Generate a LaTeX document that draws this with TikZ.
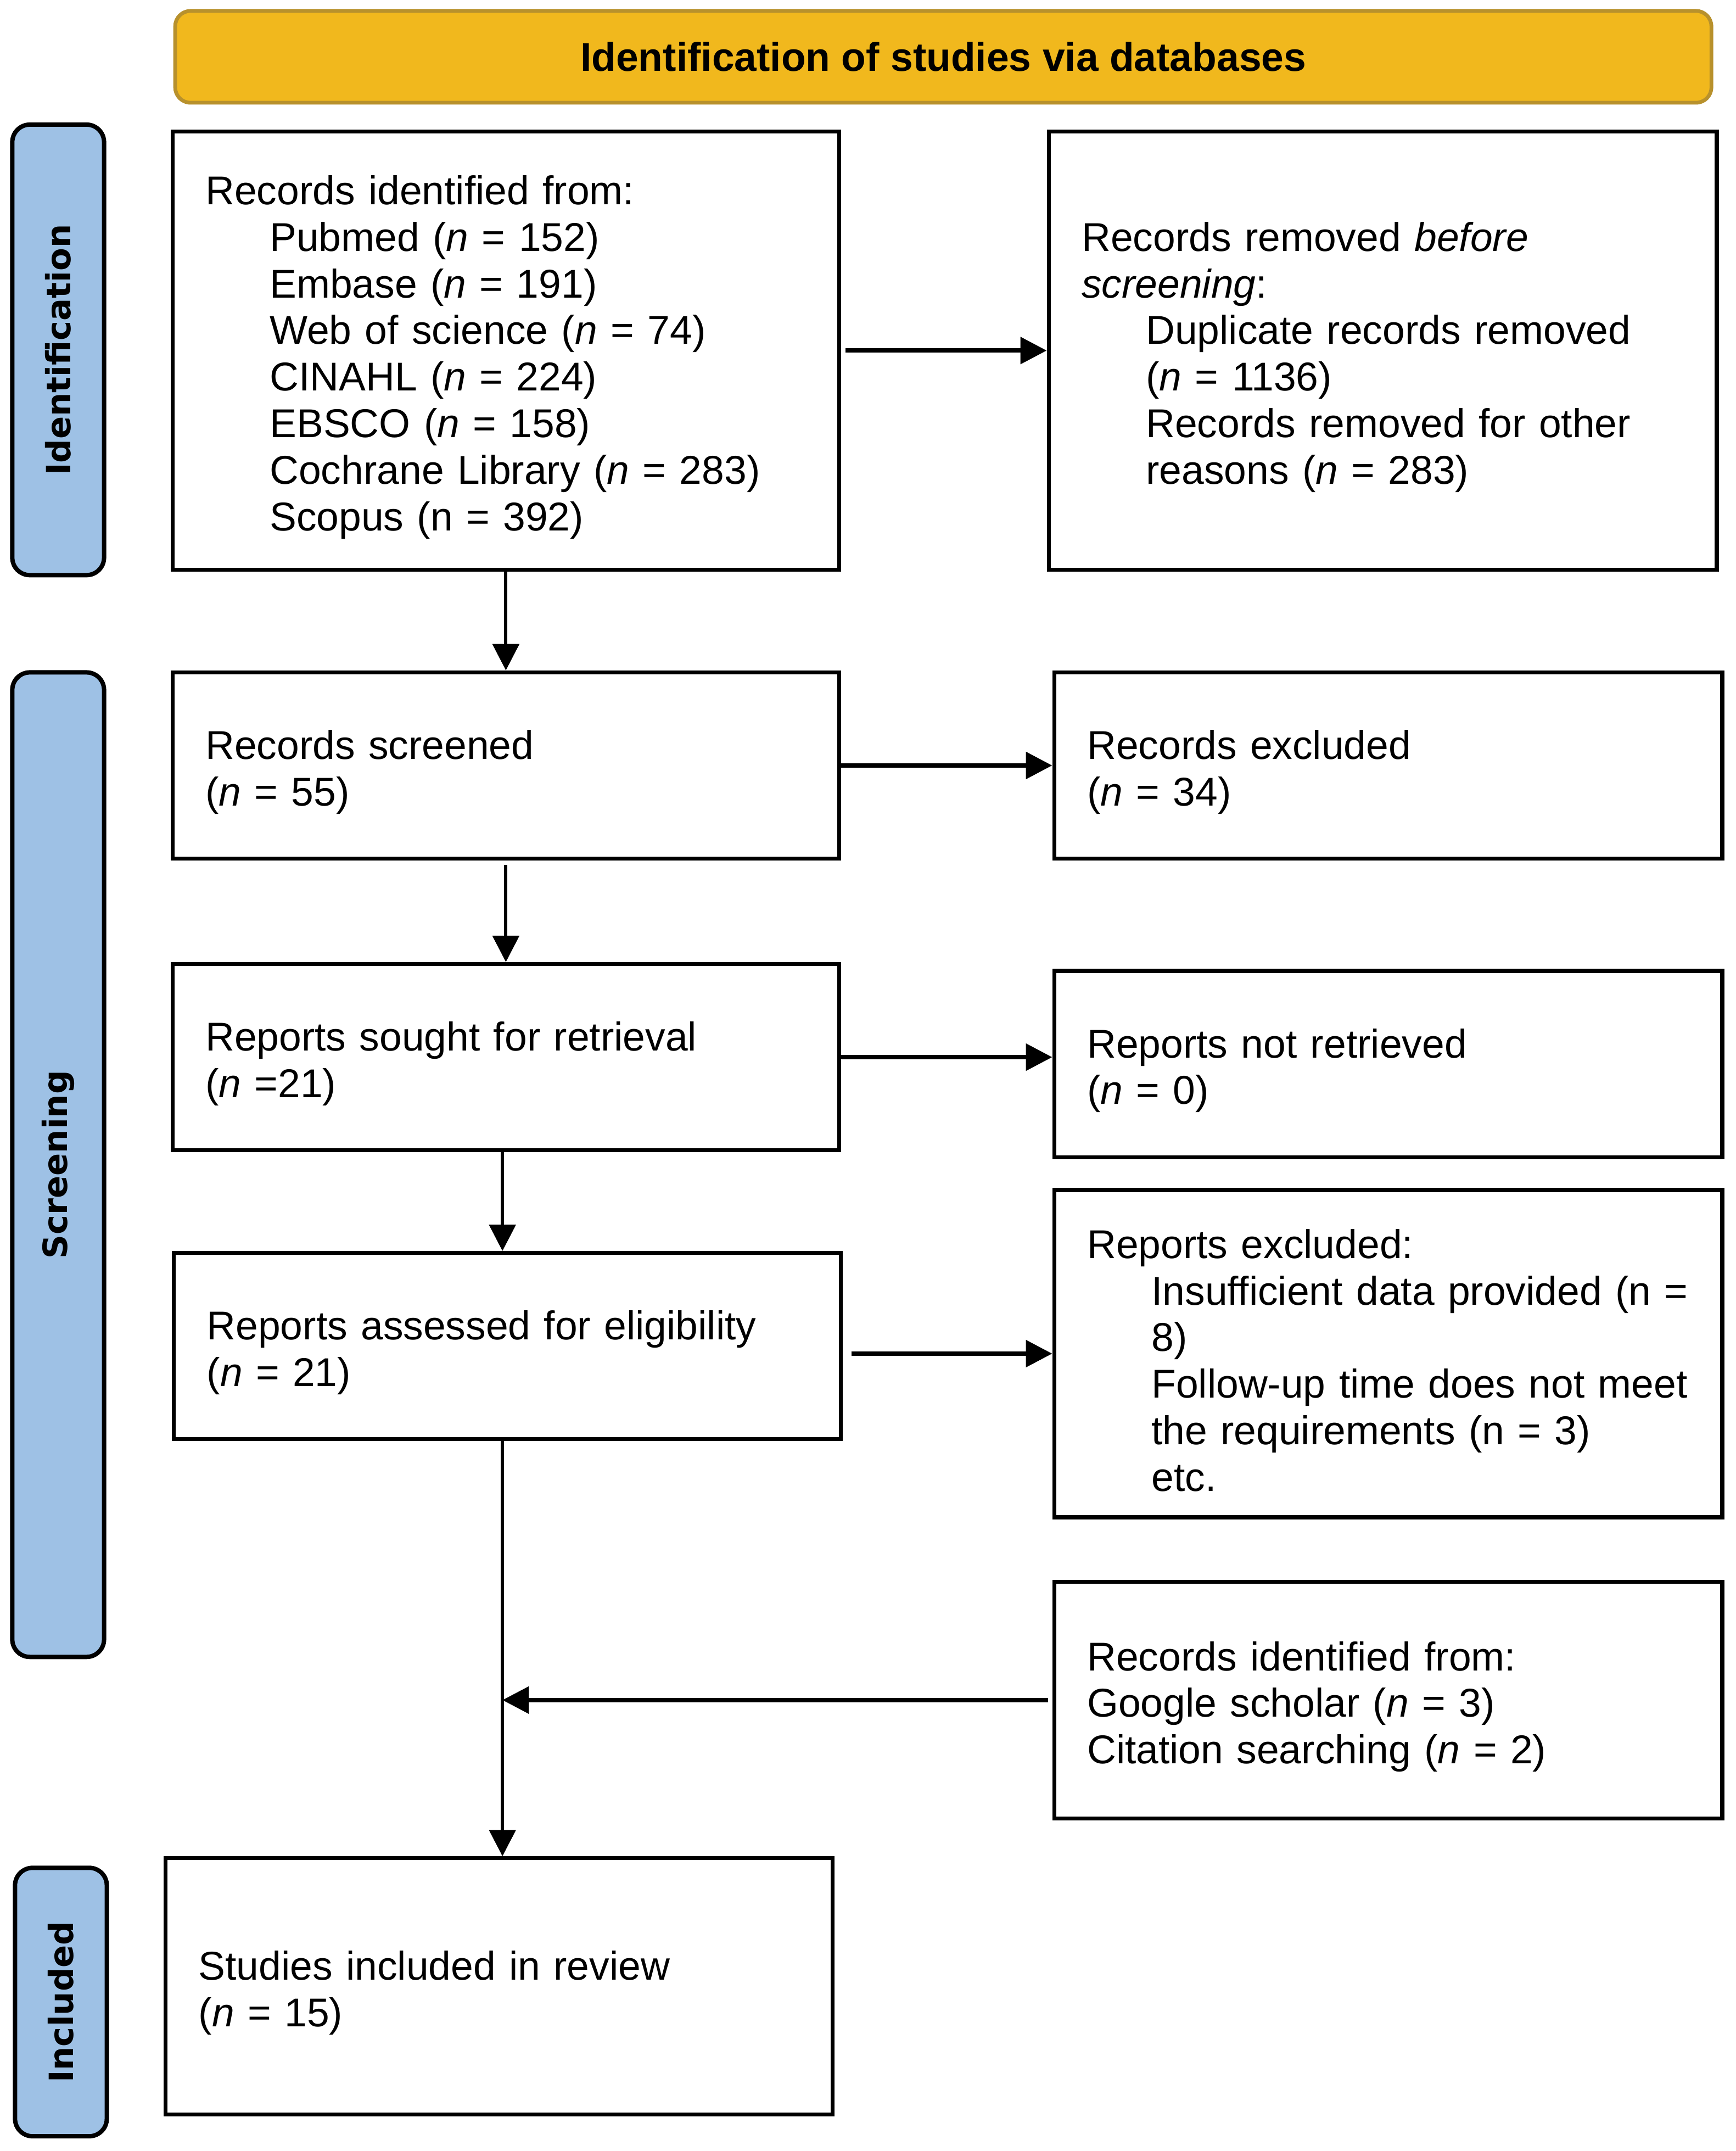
\documentclass[tikz,border=0pt]{standalone}
\usepackage{fontspec}
\setmainfont{Liberation Sans}
\newfontfamily\sidefont{DejaVu Sans}
\usetikzlibrary{arrows.meta}
\definecolor{gold}{HTML}{F1B81D}
\definecolor{golddark}{HTML}{B8912C}
\definecolor{sideblue}{HTML}{9EC1E5}
\newcommand\bodyfont{\fontsize{18.3pt}{21.2pt}\selectfont}
\newcommand\ind{\hspace*{29.3pt}}
\newcommand\nn{\textit{n}}
\begin{document}
\begin{tikzpicture}[x=0.6234pt,y=-0.6234pt,
  hdr/.style={draw=golddark, line width=1.7pt, fill=gold, rounded corners=7pt,
    minimum width=699.5pt, minimum height=41.8pt, inner sep=0pt, font=\bfseries\bodyfont},
  side/.style={draw=black, line width=2pt, fill=sideblue, rounded corners=8pt, rotate=90,
    minimum height=41.8pt, inner sep=0pt, font=\sidefont\bfseries\fontsize{15.2pt}{18pt}\selectfont},
  fbox/.style={draw, line width=1.8pt, rectangle, inner xsep=15pt, inner ysep=0pt,
    align=left, font=\bodyfont, execute at begin node={\rule{0pt}{19.3pt}}},
  lbox/.style={fbox, text width=273.6pt},
  rbox/.style={fbox, text width=274.2pt},
  harrow/.style={line width=2pt, -{Triangle[length=12pt,width=12pt]}},
  varrow/.style={line width=1.5pt, -{Triangle[length=12pt,width=12pt]}}]
\useasboundingbox (0,0) rectangle (1268,1570.8);

\node[hdr] (hdr) at (689,41.5) {Identification of studies via databases};

\node[side, minimum width=205.1pt] (sid) at (42.5,255.5) {Identification};
\node[side, minimum width=448.2pt] (sscr) at (42.5,850.5) {Screening};
\node[side, minimum width=122.2pt] (sinc) at (44.5,1462) {Included};

\node[lbox, minimum height=199.5pt] (idb) at (369.5,256) {Records identified from:\\
\ind Pubmed (\nn{} = 152)\\
\ind Embase (\nn{} = 191)\\
\ind Web of science (\nn{} = 74)\\
\ind CINAHL (\nn{} = 224)\\
\ind EBSCO (\nn{} = 158)\\
\ind Cochrane Library (\nn{} = 283)\\
\ind Scopus (n = 392)};

\node[rbox, minimum height=199.5pt] (rem) at (1010,256) {Records removed \textit{before}\\
\textit{screening}:\\
\ind Duplicate records removed\\
\ind (\nn{} = 1136)\\
\ind Records removed for other\\
\ind reasons (\nn{} = 283)};

\node[lbox, minimum height=84.8pt] (scr) at (369.5,559) {Records screened\\(\nn{} = 55)};
\node[rbox, minimum height=84.8pt] (exc) at (1014,559) {Records excluded\\(\nn{} = 34)};

\node[lbox, minimum height=84.8pt] (sou) at (369.5,772) {Reports sought for retrieval\\(\nn{} =21)};
\node[rbox, minimum height=84.8pt] (nre) at (1014,777) {Reports not retrieved\\(\nn{} = 0)};

\node[lbox, minimum height=84.8pt] (ass) at (370.5,983) {Reports assessed for eligibility\\(\nn{} = 21)};
\node[rbox, minimum height=149pt] (rex) at (1014,988.5) {Reports excluded:\\
\ind Insufficient data provided (n =\\
\ind 8)\\
\ind Follow-up time does not meet\\
\ind the requirements (n = 3)\\
\ind etc.};

\node[rbox, minimum height=107.8pt] (oth) at (1014,1241.5) {Records identified from:\\
Google scholar (\nn{} = 3)\\
Citation searching (\nn{} = 2)};

\node[lbox, minimum height=116.6pt] (inc) at (364.5,1450.5) {Studies included in review\\(\nn{} = 15)};

\coordinate (mx) at (367,0);

\draw[harrow, shorten <=2pt] (idb.east) -- (rem.west);
\draw[varrow] (idb.south) -- (scr.north);
\draw[harrow] (scr.east) -- (exc.west);
\draw[varrow, shorten <=2pt] (scr.south) -- (sou.north);
\draw[harrow] (sou.east) -- (sou.east -| nre.west);
\draw[varrow] (sou.south -| mx) -- (ass.north -| mx);
\draw[harrow, shorten <=4pt] (ass.east |- rex.west) -- (rex.west);
\draw[varrow] (ass.south -| mx) -- (inc.north -| mx);
\draw[harrow, shorten <=2pt] (oth.west) -- (oth.west -| mx);
\end{tikzpicture}
\end{document}
